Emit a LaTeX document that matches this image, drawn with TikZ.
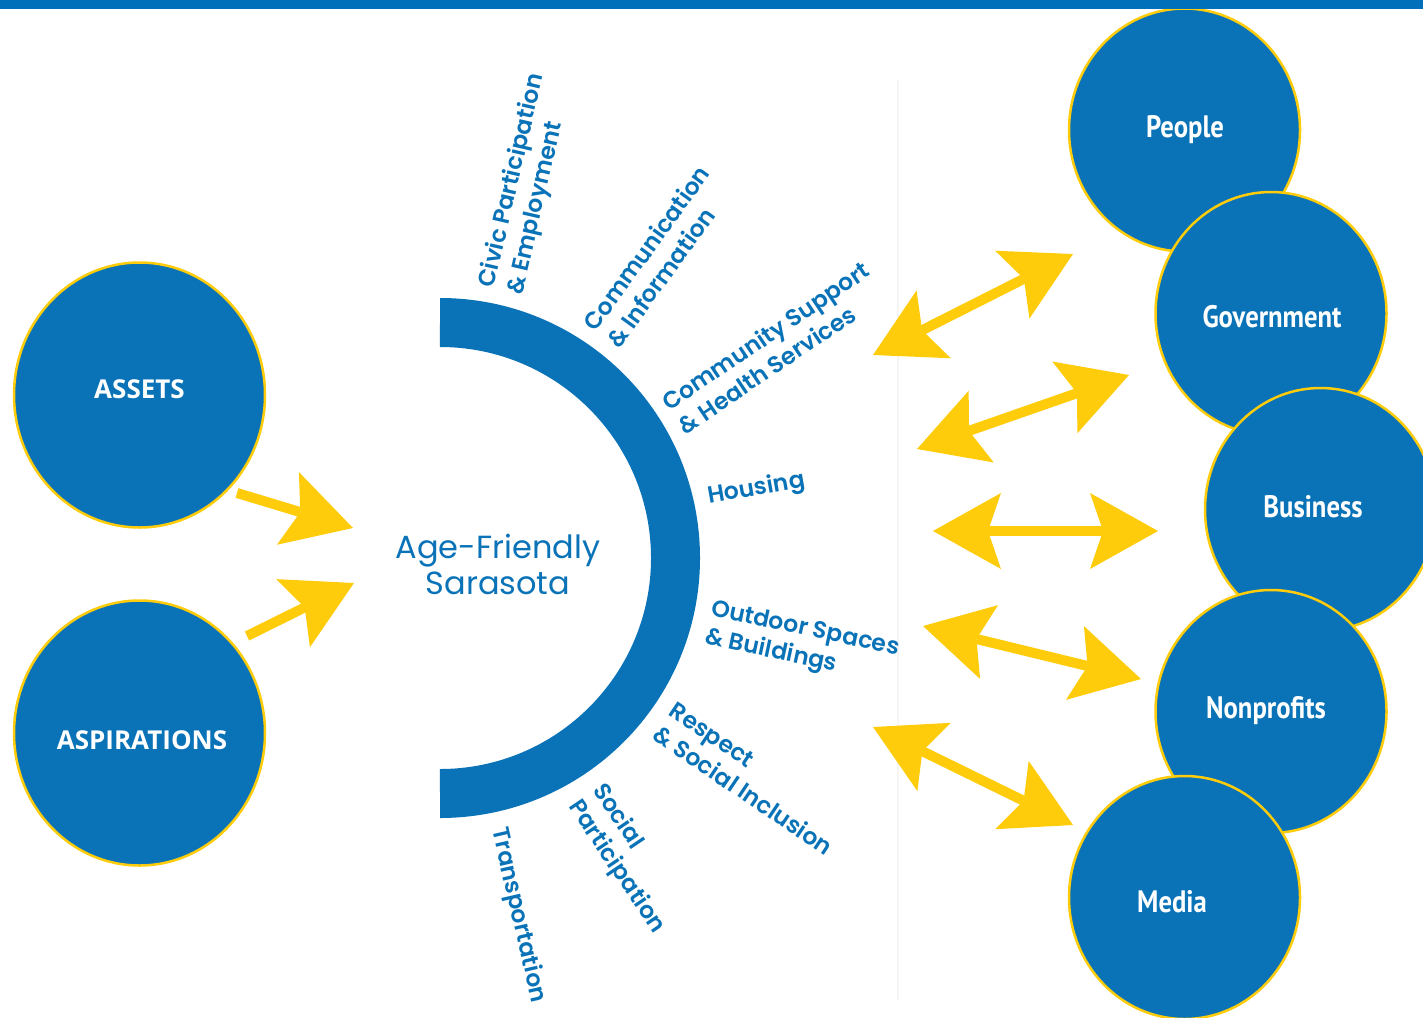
\documentclass[tikz,border=0pt]{standalone}
\usepackage{fontspec}
\usetikzlibrary{shapes.geometric, arrows.meta}

\newfontfamily\spokefont{Poppins SemiBold}
\newfontfamily\hubfont{Poppins}
\newfontfamily\capsfont{Open Sans}
\newfontfamily\partnerfont{PT Sans}[FakeStretch=0.86]

\definecolor{afsblue}{HTML}{0A73B8}
\definecolor{barblue}{HTML}{0070BA}
\definecolor{afsyellow}{HTML}{FECC0A}

\tikzset{
  bubble/.style={ellipse, fill=afsblue, draw=afsyellow, line width=2.5pt, inner sep=0pt},
  smallbubble/.style={bubble, minimum width=231pt, minimum height=243pt},
  bigbubble/.style={bubble, minimum width=251pt, minimum height=265pt},
  capsword/.style={anchor=base, text=white, inner sep=0pt, font=\capsfont\bfseries\fontsize{26}{30}\selectfont},
  partner/.style={anchor=base, text=white, inner sep=0pt, font=\partnerfont\bfseries\fontsize{31}{36}\selectfont},
  spoke/.style={anchor=west, align=left, inner sep=0pt, text=afsblue, font=\spokefont\fontsize{23.5}{29}\selectfont},
  flow/.style={afsyellow, line width=10pt}
}

\begin{document}
\begin{tikzpicture}[x=1pt, y=-1pt, >={Stealth[length=68pt, width=76pt, inset=13pt, line width=0pt]}]
\useasboundingbox (0,0) rectangle (1423,1017);

% faint page edge
\draw[black!4, line width=1.5pt] (898,80) -- (898,1000);

% the domains band
\coordinate (hub) at (440,558);
\draw[afsblue, line width=49pt] (440,322.5) arc[start angle=-90, end angle=90, radius=235.5];

\node[text=afsblue, align=center, font=\hubfont\fontsize{32}{36}\selectfont] (afs) at (498,564) {Age-Friendly\\Sarasota};

\node[spoke, rotate=77] (civic) at (502,291) {Civic Participation\\\& Employment};
\node[spoke, rotate=54] (comm) at (600,336) {Communication\\\& Information};
\node[spoke, rotate=34] (support) at (672,416) {Community Support\\\& Health Services};
\node[spoke, rotate=10] (housing) at (708,498) {Housing};
\node[spoke, rotate=-12] (outdoor) at (708,624) {Outdoor Spaces\\\& Buildings};
\node[spoke, rotate=-34] (respect) at (664,720) {Respect\\\& Social Inclusion};
\node[spoke, rotate=-56] (social) at (585,795) {Social\\Participation};
\node[spoke, rotate=-77] (transport) at (498,828) {Transportation};

% inputs
\node[bigbubble] (assets) at (139.5,395) {};
\node[capsword] (assets-txt) at (139.5,398) {ASSETS};
\node[bigbubble] (aspirations) at (139.5,733) {};
\node[capsword] (aspirations-txt) at (142,749) {ASPIRATIONS};

\coordinate (in1) at (237,493);
\coordinate (in1tip) at (353,528);
\coordinate (in2) at (247,636);
\coordinate (in2tip) at (354,583);
\draw[flow, ->] (in1) -- (in1tip);
\draw[flow, ->] (in2) -- (in2tip);

% partners
\node[smallbubble] (people) at (1184.5,130) {};
\node[partner] (people-txt) at (1185,137) {People};
\node[smallbubble] (government) at (1271,313.5) {};
\node[partner] (government-txt) at (1272,327) {Government};
\node[smallbubble] (business) at (1320.5,509.5) {};
\node[partner] (business-txt) at (1313,517) {Business};
\node[smallbubble] (nonprofits) at (1271,711.5) {};
\node[partner] (nonprofits-txt) at (1266,718) {Nonprofits};
\node[smallbubble] (media) at (1184.5,897.5) {};
\node[partner] (media-txt) at (1172,912) {Media};

\coordinate (l1) at (873,355);  \coordinate (r1) at (1073,254);
\coordinate (l2) at (917,449);  \coordinate (r2) at (1129,375);
\coordinate (l3) at (933,531);  \coordinate (r3) at (1158,531);
\coordinate (l4) at (923,626);  \coordinate (r4) at (1141,679);
\coordinate (l5) at (873,727);  \coordinate (r5) at (1073,825);
\foreach \i in {1,...,5}
  \draw[flow, <->] (l\i) -- (r\i);

% top rule
\fill[barblue] (0,0) rectangle (1423,9);
\end{tikzpicture}
\end{document}
